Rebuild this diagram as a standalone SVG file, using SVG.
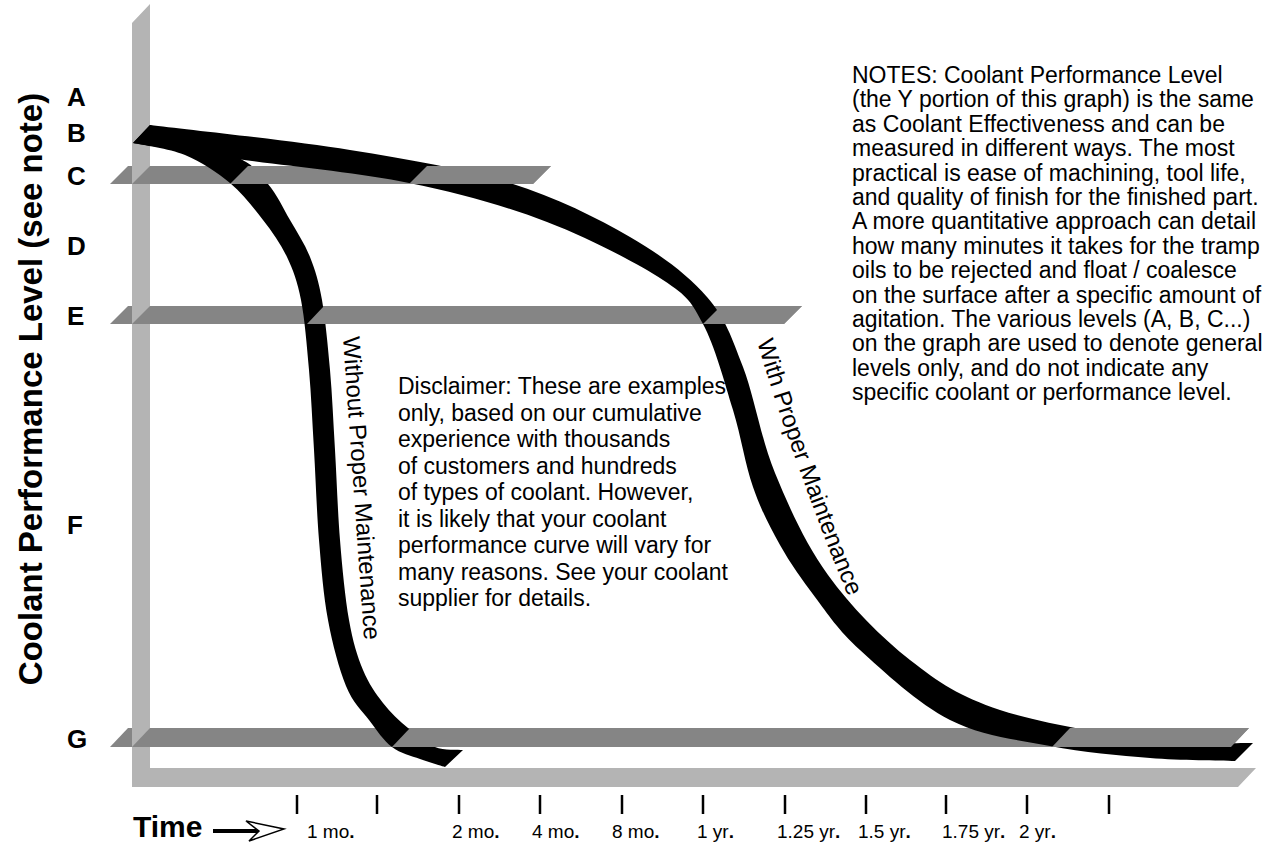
<svg xmlns="http://www.w3.org/2000/svg" width="1268" height="844" viewBox="0 0 1268 844">
<style>
.f{font-family:"Liberation Sans",Arial,Helvetica,sans-serif;fill:#000}
.b{font-weight:bold}
.bar{fill:#858585}
.ax{fill:#b4b4b4}
.rib{fill:#000}
.tick{stroke:#000;stroke-width:2.5}
.note{font-size:23px}
.tl{font-size:19px}
.lvl{font-size:26px;font-weight:bold}
</style>
<rect width="1268" height="844" fill="#fff"/>
<g id="levels">
<polygon class="bar" points="128,166 551,166 533,184 110,184"/>
<polygon class="bar" points="128,306 802,306 784,324 110,324"/>
<polygon class="bar" points="128,728 1249,728 1231,747 110,747"/>
</g>
<g id="axes">
<polygon class="ax" points="132,23 150,4 150,768 1256,768 1238,787 132,787"/>
<polygon class="bar" points="150,166 150,184 132,184"/>
<polygon class="bar" points="150,306 150,324 132,324"/>
<polygon class="bar" points="150,728 150,747 132,747"/>
</g>
<g id="connectors">
<path id="with-curve" class="rib" d="M150,125 C183.3,129.2 290,140.3 350,150 C410,159.7 463.3,168.5 510,183 C556.7,197.5 597.2,218 630,237 C662.8,256 688.2,275.3 707,297 C725.8,318.7 731.7,337.7 743,367 C754.3,396.3 760.8,438.3 775,473 C789.2,507.7 805.5,543.8 828,575 C850.5,606.2 881.3,637.5 910,660 C938.7,682.5 960,696.7 1000,710 C1040,723.3 1107.8,734.5 1150,740 C1192.2,745.5 1235.8,742.5 1253,743 L1235,761 C1220.8,760.5 1180.8,760.5 1150,758 C1119.2,755.5 1083.3,752.3 1050,746 C1016.7,739.7 981.7,736 950,720 C918.3,704 882.5,670.5 860,650 C837.5,629.5 828.3,614.5 815,597 C801.7,579.5 790.3,563.3 780,545 C769.7,526.7 760.8,509.5 753,487 C745.2,464.5 741.3,437.2 733,410 C724.7,382.8 714.7,345.7 703,324 C691.3,302.3 689,297 663,280 C637,263 589.3,238.2 547,222 C504.7,205.8 460.7,193.5 409,183 C357.3,172.5 283,165.7 237,159 C191,152.3 150.3,145.7 133,143 Z"/>
<path id="without-curve" class="rib" d="M150,125 L237,157 C256.7,166.8 259.2,173.5 268,184 C276.8,194.5 283,207.8 290,220 C297,232.2 304.7,243.7 310,257 C315.3,270.3 318.7,281.2 322,300 C325.3,318.8 327.8,345 330,370 C332.2,395 333.3,421.7 335,450 C336.7,478.3 337.7,511.7 340,540 C342.3,568.3 345.2,598.3 349,620 C352.8,641.7 357.3,656.2 363,670 C368.7,683.8 375.5,693.3 383,703 C390.5,712.7 399.3,720.7 408,728 C416.7,735.3 425.8,743.3 435,747 C444.2,750.7 458.3,749.5 463,750 L445,767 C440.8,765.7 428.8,762.3 420,759 C411.2,755.7 400.5,753.5 392,747 C383.5,740.5 376.7,730.2 369,720 C361.3,709.8 352.8,702.7 346,686 C339.2,669.3 332.5,644.3 328,620 C323.5,595.7 321.3,568.3 319,540 C316.7,511.7 315.7,478.3 314,450 C312.3,421.7 311.2,395 309,370 C306.8,345 304.7,318.8 301,300 C297.3,281.2 293.3,270.3 287,257 C280.7,243.7 272.5,232.3 263,220 C253.5,207.7 243,193.8 230,183 C217,172.2 201.2,161.7 185,155 C168.8,148.3 141.7,145 133,143 Z"/>
<g id="crossings">
<polygon class="bar" points="248,166 292,166 274,184 230,184"/>
<polygon class="bar" points="427,166 551,166 533,184 409,184"/>
<polygon class="bar" points="324,306 360,306 342,324 307,324"/>
<polygon class="bar" points="721,306 802,306 784,324 703,324"/>
<polygon class="bar" points="410,728 470,728 451,747 392,747"/>
<polygon class="bar" points="1070,728 1249,728 1231,747 1052,747"/>
</g>
</g>
<g id="level-labels" class="f lvl">
<text x="67" y="106">A</text>
<text x="67" y="142">B</text>
<text x="67" y="185">C</text>
<text x="67" y="255">D</text>
<text x="67" y="325">E</text>
<text x="67" y="534">F</text>
<text x="67" y="748">G</text>
</g>
<g id="y-title">
<text class="f b" font-size="33" text-anchor="middle" transform="translate(42,389) rotate(-90)">Coolant Performance Level (see note)</text>
</g>
<g id="curve-labels" class="f" font-size="24">
<text transform="translate(343,337) rotate(86)">Without Proper Maintenance</text>
<path id="wp" d="M757,342 Q795,468 852,606" fill="none"/>
<text><textPath href="#wp">With Proper Maintenance</textPath></text>
</g>
<g id="disclaimer" class="f note">
<text x="398" y="394">Disclaimer: These are examples</text>
<text x="398" y="420.5">only, based on our cumulative</text>
<text x="398" y="447">experience with thousands</text>
<text x="398" y="473.5">of customers and hundreds</text>
<text x="398" y="500">of types of coolant. However,</text>
<text x="398" y="526.5">it is likely that your coolant</text>
<text x="398" y="553">performance curve will vary for</text>
<text x="398" y="579.5">many reasons. See your coolant</text>
<text x="398" y="606">supplier for details.</text>
</g>
<g id="notes" class="f note">
<text x="852" y="83">NOTES: Coolant Performance Level</text>
<text x="852" y="107.4">(the Y portion of this graph) is the same</text>
<text x="852" y="131.8">as Coolant Effectiveness and can be</text>
<text x="852" y="156.2">measured in different ways. The most</text>
<text x="852" y="180.6">practical is ease of machining, tool life,</text>
<text x="852" y="205">and quality of finish for the finished part.</text>
<text x="852" y="229.4">A more quantitative approach can detail</text>
<text x="852" y="253.8">how many minutes it takes for the tramp</text>
<text x="852" y="278.2">oils to be rejected and float / coalesce</text>
<text x="852" y="302.6">on the surface after a specific amount of</text>
<text x="852" y="327">agitation. The various levels (A, B, C...)</text>
<text x="852" y="351.4">on the graph are used to denote general</text>
<text x="852" y="375.8">levels only, and do not indicate any</text>
<text x="852" y="400.2">specific coolant or performance level.</text>
</g>
<g id="time-axis">
<g class="tick">
<line x1="297" y1="795" x2="297" y2="814"/>
<line x1="377" y1="795" x2="377" y2="814"/>
<line x1="459" y1="795" x2="459" y2="814"/>
<line x1="540" y1="795" x2="540" y2="814"/>
<line x1="622" y1="795" x2="622" y2="814"/>
<line x1="703" y1="795" x2="703" y2="814"/>
<line x1="785" y1="795" x2="785" y2="814"/>
<line x1="866" y1="795" x2="866" y2="814"/>
<line x1="946" y1="795" x2="946" y2="814"/>
<line x1="1027" y1="795" x2="1027" y2="814"/>
<line x1="1109" y1="795" x2="1109" y2="814"/>
</g>
<g class="f tl">
<text x="307" y="838">1 mo<tspan class="b">.</tspan></text>
<text x="452" y="838">2 mo<tspan class="b">.</tspan></text>
<text x="532" y="838">4 mo<tspan class="b">.</tspan></text>
<text x="612" y="838">8 mo<tspan class="b">.</tspan></text>
<text x="697" y="838">1 yr<tspan class="b">.</tspan></text>
<text x="777" y="838">1.25 yr<tspan class="b">.</tspan></text>
<text x="858" y="838">1.5 yr<tspan class="b">.</tspan></text>
<text x="942" y="838">1.75 yr<tspan class="b">.</tspan></text>
<text x="1019" y="838">2 yr<tspan class="b">.</tspan></text>
</g>
<text class="f b" x="133" y="837" font-size="30">Time</text>
<line x1="213" y1="831" x2="259" y2="831" stroke="#000" stroke-width="4"/>
<path d="M246,821 L284,829 L249,841 L259,831 Z" fill="#fff" stroke="#000" stroke-width="1.5" stroke-linejoin="miter"/>
</g>
</svg>
